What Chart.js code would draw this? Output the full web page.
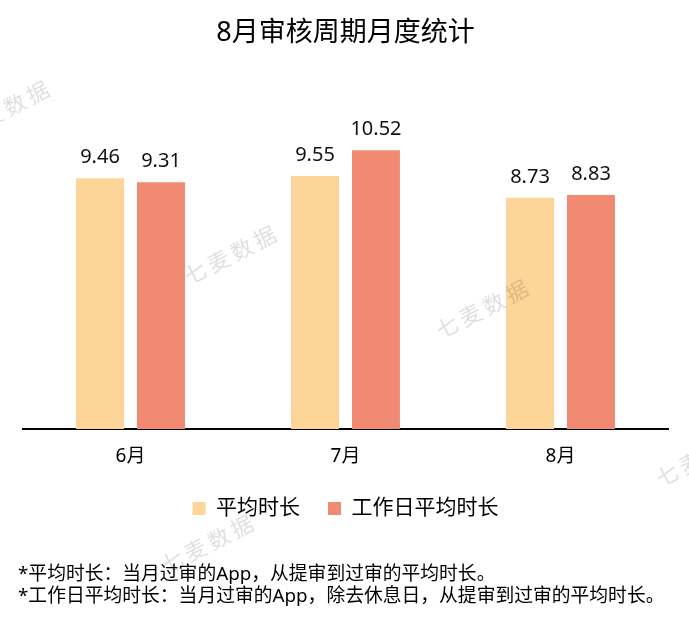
<!DOCTYPE html>
<html>
<head>
<meta charset="utf-8">
<script src="https://cdn.jsdelivr.net/npm/chart.js@4.4.1/dist/chart.umd.min.js"></script>
<style>
  html, body { margin: 0; padding: 0; background: #fff; }
  #wrap { position: relative; width: 689px; height: 621px; }
  #note {
    position: absolute; left: 18px; top: 562px;
    font-family: 'Noto Sans', 'Noto Sans CJK SC', sans-serif;
    font-size: 18.8px; line-height: 22px; color: #000; white-space: nowrap;
  }
</style>
</head>
<body>
<div id="wrap">
  <canvas id="chart" width="689" height="621"></canvas>
  <div id="note">
    *平均时长：当月过审的App，从提审到过审的平均时长。<br>
    *工作日平均时长：当月过审的App，除去休息日，从提审到过审的平均时长。
  </div>
</div>
<script>
const months = ['6月', '7月', '8月'];
const avgAll = [9.46, 9.55, 8.73];
const avgWork = [9.31, 10.52, 8.83];
const seriesNames = ['平均时长', '工作日平均时长'];

const FONT = "'Noto Sans', 'Noto Sans CJK SC', sans-serif";

// value labels above bars
const barLabels = {
  id: 'barLabels',
  afterDatasetsDraw(chart) {
    const ctx = chart.ctx;
    ctx.save();
    ctx.font = '20px ' + FONT;
    ctx.fillStyle = '#111';
    ctx.textAlign = 'center';
    ctx.textBaseline = 'alphabetic';
    chart.data.datasets.forEach((ds, i) => {
      chart.getDatasetMeta(i).data.forEach((bar, j) => {
        ctx.fillText(ds.data[j].toFixed(2), bar.x, bar.y - 15);
      });
    });
    ctx.restore();
  }
};

// faint "七麦数据" watermarks
const marks = [[4, 112], [281, -25], [231, 257], [483, 311], [208, 546], [703, 459]];
const watermark = {
  id: 'watermark',
  afterDraw(chart) {
    const ctx = chart.ctx;
    ctx.save();
    ctx.font = '22px ' + FONT;
    ctx.fillStyle = 'rgba(0,0,0,0.13)';
    ctx.textAlign = 'center';
    ctx.textBaseline = 'middle';
    marks.forEach(([cx, cy]) => {
      ctx.save();
      ctx.translate(cx, cy);
      ctx.rotate(-27 * Math.PI / 180);
      [...'七麦数据'].forEach((ch, k) => {
        ctx.fillText(ch, (k - 1.5) * 26, 0);
      });
      ctx.restore();
    });
    ctx.restore();
  }
};

new Chart(document.getElementById('chart'), {
  type: 'bar',
  data: {
    labels: months,
    datasets: [
      { label: seriesNames[0], data: avgAll, backgroundColor: '#FDD598' },
      { label: seriesNames[1], data: avgWork, backgroundColor: '#F08A72' }
    ]
  },
  options: {
    responsive: false,
    animation: false,
    events: [],
    layout: { padding: { left: 23, right: 21, top: 0, bottom: 92 } },
    datasets: { bar: { categoryPercentage: 0.567, barPercentage: 0.787 } },
    scales: {
      x: {
        grid: { display: false, drawTicks: false },
        border: { display: true, color: '#000', width: 2 },
        ticks: { color: '#000', padding: 16, font: { family: FONT, size: 19 } },
        afterFit(scale) { scale.height = 41; }
      },
      y: { display: false, min: 0, max: 12 }
    },
    plugins: {
      title: {
        display: true,
        text: '8月审核周期月度统计',
        color: '#000',
        font: { family: FONT, size: 27, weight: 'normal' },
        padding: { top: 17, bottom: 61.6 }
      },
      legend: {
        position: 'bottom',
        labels: {
          boxWidth: 13, boxHeight: 13, padding: 28,
          color: '#000',
          font: { family: FONT, size: 21 }
        }
      },
      tooltip: { enabled: false }
    }
  },
  plugins: [barLabels, watermark]
});
</script>
</body>
</html>
